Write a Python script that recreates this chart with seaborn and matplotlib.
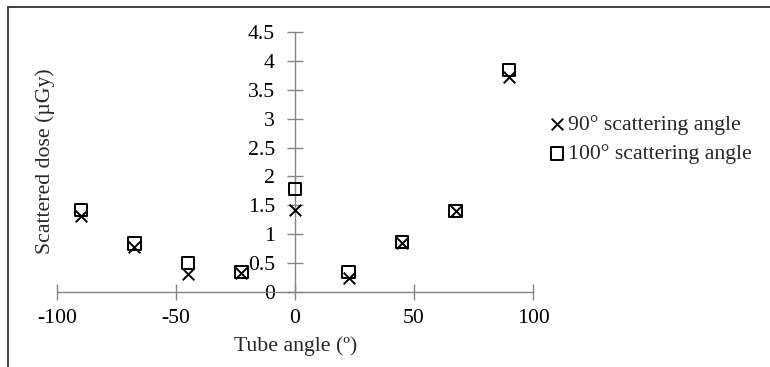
import matplotlib
matplotlib.use("Agg")
import matplotlib.pyplot as plt
from matplotlib.lines import Line2D
import seaborn as sns
import pandas as pd

tube_angle = [-90, -67.5, -45, -22.5, 0, 22.5, 45, 67.5, 90]
dose_90 = [1.31, 0.78, 0.32, 0.33, 1.42, 0.24, 0.85, 1.40, 3.72]
dose_100 = [1.42, 0.84, 0.50, 0.35, 1.78, 0.35, 0.87, 1.40, 3.84]
series_names = ["90° scattering angle", "100° scattering angle"]
x_ticks = [-100, -50, 0, 50, 100]
y_ticks = [0, 0.5, 1, 1.5, 2, 2.5, 3, 3.5, 4, 4.5]
y_tick_labels = ["0", "0.5", "1", "1.5", "2", "2.5", "3", "3.5", "4", "4.5"]

sns.set_style("white")
plt.rcParams['font.family'] = ['Liberation Serif', 'DejaVu Serif']
plt.rcParams['axes.unicode_minus'] = False
FS = 15.7
plt.rcParams['font.size'] = FS

df90 = pd.DataFrame({"angle": tube_angle, "dose": dose_90})
df100 = pd.DataFrame({"angle": tube_angle, "dose": dose_100})

fig = plt.figure(figsize=(7.7, 3.67), dpi=100)
W, H = 770, 367
ax = fig.add_axes([57 / W, (H - 292) / H, (533 - 57) / W, (292 - 32) / H])
ax.set_facecolor('none')

sns.scatterplot(data=df90, x="angle", y="dose", marker="x", color="black",
                s=70, linewidth=1.4, ax=ax, label=series_names[0], zorder=3)
sns.scatterplot(data=df100, x="angle", y="dose", marker="s", facecolor="none",
                edgecolor="black", s=80, linewidth=1.4, ax=ax,
                label=series_names[1], zorder=3)

ax.set_xlim(-100, 100)
ax.set_ylim(0, 4.5)
ax.spines['left'].set_position(('data', 0))
ax.spines['bottom'].set_position(('data', 0))
ax.spines['right'].set_visible(False)
ax.spines['top'].set_visible(False)
for sp in ('left', 'bottom'):
    ax.spines[sp].set_color('#858585')
    ax.spines[sp].set_linewidth(1.0)
ax.set_xticks(x_ticks)
ax.set_yticks(y_ticks)
ax.set_xticklabels([str(v) for v in x_ticks])
ax.set_yticklabels(y_tick_labels)
ax.tick_params(axis='both', direction='inout', length=11, width=1.0,
               color='#858585', labelcolor='black', labelsize=FS,
               bottom=True, left=True)
ax.tick_params(axis='x', pad=7)
ax.tick_params(axis='y', pad=9)
ax.set_xlabel("")
ax.set_ylabel("")

fig.text(296 / W, 1 - 346 / H, "Tube angle (º)", ha='center', va='center', fontsize=FS)
fig.text(45 / W, 1 - 161 / H, "Scattered dose (µGy)", ha='center', va='center',
         rotation=90, fontsize=FS)

ax.legend(loc='center left', bbox_to_anchor=(546 / W, 1 - 139.5 / H),
          bbox_transform=fig.transFigure, frameon=False, handletextpad=0.0,
          handlelength=1.0, labelspacing=0.4, borderaxespad=0, borderpad=0,
          fontsize=FS)

fig.add_artist(Line2D([8 / W, 1], [1 - 7 / H, 1 - 7 / H], color='#404040', lw=1.4,
                      transform=fig.transFigure))
fig.add_artist(Line2D([8 / W, 8 / W], [0, 1 - 7 / H], color='#404040', lw=1.4,
                      transform=fig.transFigure))

fig.savefig("out.png", dpi=100)
